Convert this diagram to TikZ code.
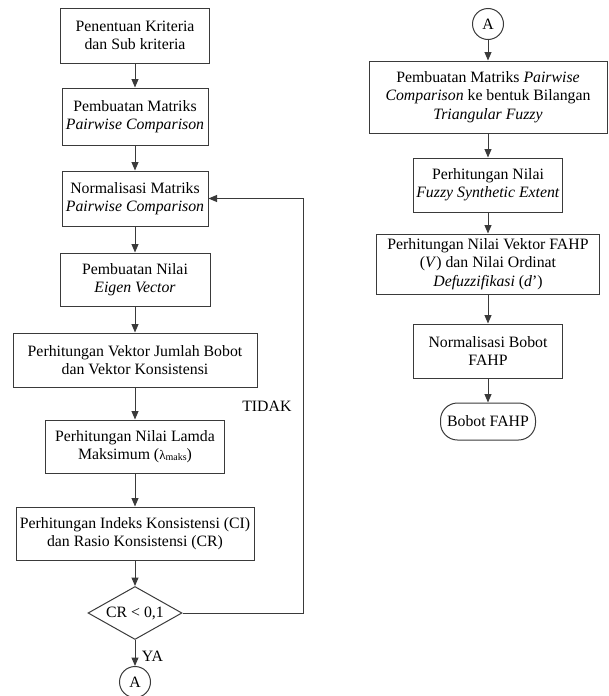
\documentclass[tikz,border=0pt]{standalone}
\usepackage{fontspec}
\setmainfont{Liberation Serif}
\usetikzlibrary{arrows.meta,shapes.geometric}
\definecolor{ln}{HTML}{3a3a3a}
\begin{document}
\begin{tikzpicture}[x=1pt,y=-1pt,
  font=\fontsize{15.8}{18.3}\selectfont,
  box/.style={draw=ln, line width=1pt, fill=white, align=center, inner sep=0pt},
  conn/.style={draw=ln, line width=1pt, -{Triangle[length=8.5pt,width=7pt]}},
  circ/.style={draw=ln, line width=1pt, circle, minimum size=31pt, inner sep=0pt},
  dec/.style={draw=ln, line width=1pt, diamond, aspect=1.75, minimum width=94pt, minimum height=53pt, inner sep=0pt},
  term/.style={draw=ln, line width=1pt, rounded corners=17pt, minimum width=95pt, minimum height=37pt, inner sep=0pt}]
\useasboundingbox (0,0) rectangle (609,696);
% left column
\node[box, minimum width=149pt, minimum height=55pt] (b1) at (135,35.5) {Penentuan Kriteria\\dan Sub kriteria};
\node[box, minimum width=146pt, minimum height=57pt] (b2) at (135,116.5) {Pembuatan Matriks\\\textit{Pairwise Comparison}};
\node[box, minimum width=146pt, minimum height=55pt] (b3) at (135,198.5) {Normalisasi Matriks\\\textit{Pairwise Comparison}};
\node[box, minimum width=150pt, minimum height=53pt] (b4) at (135,279.5) {Pembuatan Nilai\\\textit{Eigen Vector}};
\node[box, minimum width=244pt, minimum height=54pt] (b5) at (135,360) {Perhitungan Vektor Jumlah Bobot\\dan Vektor Konsistensi};
\node[box, minimum width=179pt, minimum height=53pt] (b6) at (135,446.5) {Perhitungan Nilai Lamda\\Maksimum ({\fontsize{13}{13}\selectfont λ}\raisebox{-1.5pt}{\fontsize{10}{10}\selectfont maks})};
\node[box, minimum width=238pt, minimum height=53pt] (b7) at (135,533.5) {Perhitungan Indeks Konsistensi (CI)\\dan Rasio Konsistensi (CR)};
\node[dec] (d) at (135,613) {CR < 0,1};
\node[circ] (a1) at (135,682) {A};
\coordinate (r1) at (303,613);
\coordinate (r2) at (303,198.5);
\draw[conn] (b1) -- (b2);
\draw[conn] (b2) -- (b3);
\draw[conn] (b3) -- (b4);
\draw[conn] (b4) -- (b5);
\draw[conn] (b5) -- (b6);
\draw[conn] (b6) -- (b7);
\draw[conn] (b7) -- (d);
\draw[conn] (d) -- node[right, xshift=3pt, yshift=-3pt] (ya) {YA} (a1);
\draw[conn] (d.east) -- (r1) -- (r2) -- (b3.east);
\node[anchor=east] (tidak) at (295,406) {TIDAK};
% right column
\node[circ] (a2) at (488,24) {A};
\node[box, minimum width=238pt, minimum height=72pt] (c1) at (488,97) {Pembuatan Matriks \textit{Pairwise}\\\textit{Comparison} ke bentuk Bilangan\\\textit{Triangular Fuzzy}};
\node[box, minimum width=149pt, minimum height=54pt] (c2) at (488,185) {Perhitungan Nilai\\\textit{Fuzzy Synthetic Extent}};
\node[box, minimum width=223pt, minimum height=60pt] (c3) at (488,264) {Perhitungan Nilai Vektor FAHP\\(\textit{V}) dan Nilai Ordinat\\\textit{Defuzzifikasi} (\textit{d}’)};
\node[box, minimum width=149pt, minimum height=54pt] (c4) at (488,351) {Normalisasi Bobot\\FAHP};
\node[term] (t) at (488,421.5) {Bobot FAHP};
\draw[conn] (a2) -- (c1);
\draw[conn] (c1) -- (c2);
\draw[conn] (c2) -- (c3);
\draw[conn] (c3) -- (c4);
\draw[conn] (c4) -- (t);
\end{tikzpicture}
\end{document}
